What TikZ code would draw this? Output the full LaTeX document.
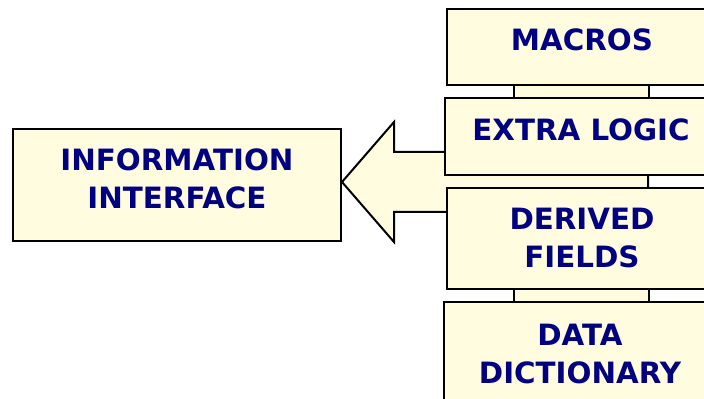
\documentclass[tikz,border=0pt]{standalone}
\usepackage{fontspec}
\setmainfont{DejaVu Sans}
\usetikzlibrary{backgrounds}
\definecolor{paleyellow}{RGB}{255,252,224}
\definecolor{inknavy}{RGB}{0,0,128}

\begin{document}
\begin{tikzpicture}[x=0.75pt, y=-0.75pt,
	block/.style={draw=black, line width=1.5pt, fill=paleyellow, text=inknavy,
		font=\bfseries\fontsize{22}{28.5}\selectfont, align=center, inner sep=0pt},
	link/.style={draw=black, line width=1.5pt, fill=paleyellow, line join=miter},
	]
	\clip (0,0) rectangle (704,399);
	\node[block, minimum width=202.5pt, minimum height=57pt, text height=16pt, text depth=10pt] (macros) at (582,47) {MACROS};
	\node[block, minimum width=204pt, minimum height=57.75pt, text height=16pt, text depth=10pt] (extra) at (581,136.5) {EXTRA LOGIC};
	\node[block, minimum width=202.5pt, minimum height=75.75pt] (derived) at (582,238.5) {DERIVED\\FIELDS};
	\node[block, minimum width=204pt, minimum height=78pt] (dict) at (580,354) {DATA\\DICTIONARY};
	\node[block, minimum width=246pt, minimum height=84pt] (info) at (177,185) {INFORMATION\\INTERFACE\\[-19.5pt]\mbox{}};
	\begin{pgfonlayer}{background}
		\draw[link] (514,85) rectangle (649,98);
		\draw[link] (514,289) rectangle (649,302);
		% big arrow into the interface
		\draw[link] ([yshift=2.25pt]info.east) -- ++(52,-60) -- ++(0,30) -- ++(254,0) -- ++(0,60)
			-- ++(-254,0) -- ++(0,30) -- cycle;
	\end{pgfonlayer}
\end{tikzpicture}
\end{document}
